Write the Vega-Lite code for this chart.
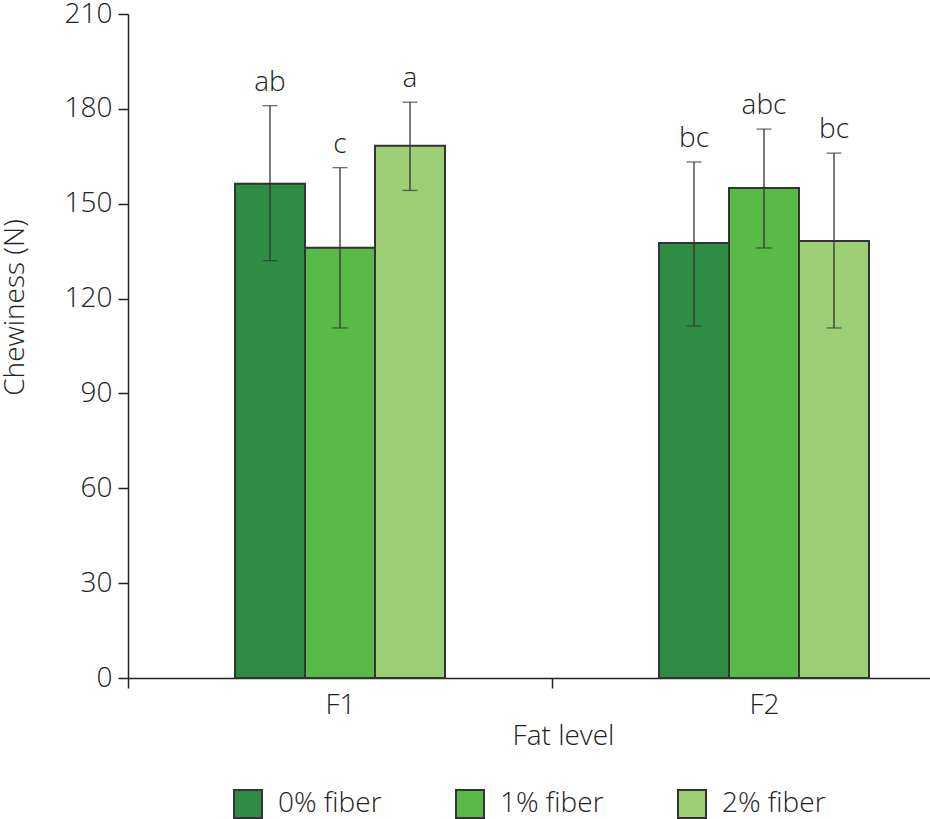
{
  "$schema": "https://vega.github.io/schema/vega-lite/v6.json",
  "autosize": {"type": "none"},
  "padding": {"left": 128, "top": 14, "right": 2, "bottom": 141},
  "width": 800,
  "height": 664,
  "config": {
    "font": "Open Sans",
    "view": {"stroke": null},
    "axis": {
      "domainColor": "#222",
      "domainWidth": 1.5,
      "tickColor": "#222",
      "tickWidth": 1.5,
      "tickSize": 10,
      "grid": false,
      "labelFontSize": 28,
      "labelFontWeight": 300,
      "labelColor": "#222",
      "titleFontSize": 28,
      "titleFontWeight": 300,
      "titleColor": "#222"
    },
    "legend": {
      "labelFontSize": 28,
      "labelFontWeight": 300,
      "labelColor": "#222"
    }
  },
  "data": {
    "values": [
      {"fat": "F1", "fiber": "0% fiber", "mean": 156.3, "lower": 132.0, "upper": 181.0, "letter": "ab"},
      {"fat": "F1", "fiber": "1% fiber", "mean": 136.1, "lower": 110.7, "upper": 161.4, "letter": "c"},
      {"fat": "F1", "fiber": "2% fiber", "mean": 168.3, "lower": 154.2, "upper": 182.1, "letter": "a"},
      {"fat": "F2", "fiber": "0% fiber", "mean": 137.6, "lower": 111.3, "upper": 163.2, "letter": "bc"},
      {"fat": "F2", "fiber": "1% fiber", "mean": 155.0, "lower": 136.0, "upper": 173.6, "letter": "abc"},
      {"fat": "F2", "fiber": "2% fiber", "mean": 138.2, "lower": 110.7, "upper": 166.0, "letter": "bc"}
    ]
  },
  "encoding": {
    "x": {
      "field": "fat",
      "type": "nominal",
      "scale": {"range": [0, 848], "paddingInner": 0, "paddingOuter": 0},
      "axis": {
        "labelAngle": 0,
        "tickBand": "extent",
        "labelPadding": 3,
        "title": "Fat level",
        "titleX": 435,
        "titleY": 66,
        "titleBaseline": "alphabetic"
      }
    },
    "xOffset": {
      "field": "fiber",
      "type": "nominal",
      "scale": {"range": [107, 317], "paddingInner": 0, "paddingOuter": 0}
    }
  },
  "layer": [
    {
      "mark": {"type": "bar", "stroke": "#333", "strokeWidth": 2},
      "encoding": {
        "y": {
          "field": "mean",
          "type": "quantitative",
          "scale": {"domain": [0, 210], "nice": false},
          "axis": {
            "values": [0, 30, 60, 90, 120, 150, 180, 210],
            "labelPadding": 6,
            "title": "Chewiness (N)",
            "titleX": -113,
            "titleY": 293,
            "titleBaseline": "middle"
          }
        },
        "color": {
          "field": "fiber",
          "type": "nominal",
          "scale": {
            "domain": ["0% fiber", "1% fiber", "2% fiber"],
            "range": ["#2f8c45", "#59b947", "#9dcf77"]
          },
          "legend": {
            "orient": "none",
            "direction": "horizontal",
            "legendX": 105,
            "legendY": 775,
            "title": null,
            "symbolType": "square",
            "symbolSize": 784,
            "symbolStrokeColor": "#333",
            "symbolStrokeWidth": 2,
            "symbolOpacity": 1,
            "labelOffset": 15,
            "columnPadding": 70
          }
        }
      }
    },
    {
      "mark": {"type": "rule", "color": "#333", "strokeWidth": 1.3},
      "encoding": {
        "y": {"field": "lower", "type": "quantitative"},
        "y2": {"field": "upper"}
      }
    },
    {
      "mark": {"type": "tick", "color": "#333", "thickness": 1.3, "size": 15},
      "encoding": {
        "y": {"field": "lower", "type": "quantitative"}
      }
    },
    {
      "mark": {"type": "tick", "color": "#333", "thickness": 1.3, "size": 15},
      "encoding": {
        "y": {"field": "upper", "type": "quantitative"}
      }
    },
    {
      "mark": {
        "type": "text",
        "fontSize": 28,
        "fontWeight": 300,
        "color": "#222",
        "baseline": "alphabetic",
        "dy": -15
      },
      "encoding": {
        "y": {"field": "upper", "type": "quantitative"},
        "text": {"field": "letter"}
      }
    }
  ]
}
